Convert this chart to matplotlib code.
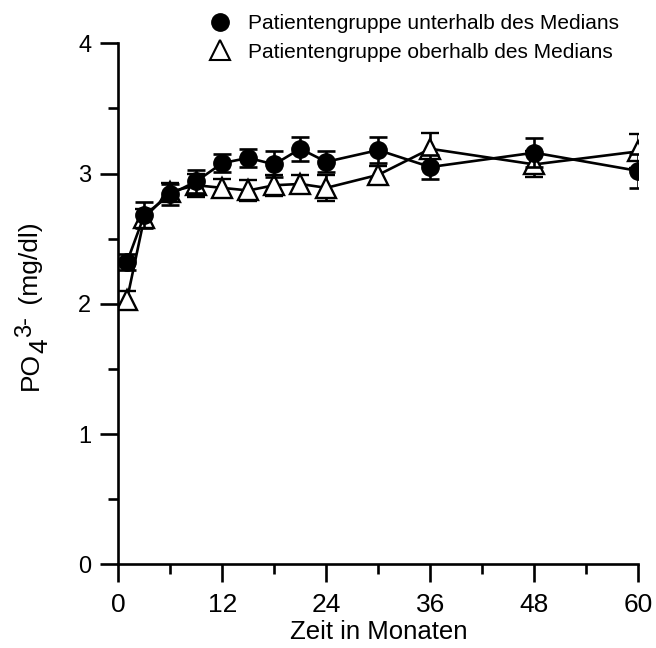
import matplotlib
matplotlib.use("Agg")
import matplotlib.pyplot as plt
from matplotlib.lines import Line2D
from matplotlib.ticker import MultipleLocator

# data
months = [1, 3, 6, 9, 12, 15, 18, 21, 24, 30, 36, 48, 60]
below_median = [2.32, 2.68, 2.84, 2.94, 3.08, 3.12, 3.07, 3.19, 3.09, 3.18, 3.05, 3.16, 3.02]
below_err = [0.06, 0.10, 0.08, 0.09, 0.07, 0.07, 0.10, 0.09, 0.08, 0.10, 0.09, 0.11, 0.13]
above_median = [2.03, 2.66, 2.86, 2.91, 2.89, 2.87, 2.91, 2.92, 2.89, 2.99, 3.19, 3.07, 3.17]
above_err = [0.07, 0.07, 0.07, 0.09, 0.07, 0.08, 0.08, 0.07, 0.10, 0.07, 0.12, 0.10, 0.13]
labels = ["Patientengruppe unterhalb des Medians", "Patientengruppe oberhalb des Medians"]
x_ticks = [0, 12, 24, 36, 48, 60]
y_ticks = [0, 1, 2, 3, 4]

plt.rcParams['font.family'] = ['Liberation Sans', 'DejaVu Sans']

fig = plt.figure(figsize=(6.56, 6.48), dpi=100)
ax = fig.add_axes([0.1803, 0.1292, 0.7927, 0.8040])

lw = 1.9
ax.errorbar(months, below_median, yerr=below_err, color='black', lw=lw,
            marker='o', ms=12.5, mfc='black', mec='black',
            capsize=6.5, capthick=lw, elinewidth=lw, zorder=3)
ax.errorbar(months, above_median, yerr=above_err, color='black', lw=lw,
            marker='^', ms=15, mfc='white', mec='black', mew=1.7,
            capsize=6.5, capthick=lw, elinewidth=lw, zorder=2)

ax.set_xlim(0, 60)
ax.set_ylim(0, 4)
ax.set_xticks(x_ticks)
ax.set_yticks(y_ticks)
ax.xaxis.set_minor_locator(MultipleLocator(6))
ax.yaxis.set_minor_locator(MultipleLocator(0.5))

for side in ['top', 'right']:
    ax.spines[side].set_visible(False)
for side in ['left', 'bottom']:
    ax.spines[side].set_linewidth(lw)

ax.tick_params(axis='both', which='major', length=13, width=lw)
ax.tick_params(axis='both', which='minor', length=7, width=lw)
ax.tick_params(axis='x', which='major', pad=8, labelsize=19)
ax.tick_params(axis='y', which='major', pad=6.5, labelsize=17)

ax.set_xlabel("Zeit in Monaten", fontsize=18.5, va='top')
ax.xaxis.set_label_coords(0.5, -0.107)

# y label: PO4 3- with a lowered 4 and raised 3-, built piece by piece
t1 = fig.text(0.0473, 1 - 390 / 648, "PO", rotation=90, fontsize=19,
              ha='center', va='bottom')
t2 = ax.annotate("4", xy=(0.5, 1), xycoords=t1, xytext=(7, -1),
                 textcoords='offset points', rotation=90, fontsize=19,
                 ha='center', va='bottom', annotation_clip=False)
t3 = ax.annotate("3-", xy=(0.5, 1), xycoords=t2, xytext=(-11.5, 1),
                 textcoords='offset points', rotation=90, fontsize=17,
                 ha='center', va='bottom', annotation_clip=False)
t4 = ax.annotate(" (mg/dl)", xy=(0.5, 1), xycoords=t3, xytext=(4.5, 3),
                 textcoords='offset points', rotation=90, fontsize=19,
                 ha='center', va='bottom', annotation_clip=False)

handles = [
    Line2D([], [], ls='none', marker='o', ms=12.5, mfc='black', mec='black'),
    Line2D([], [], ls='none', marker='^', ms=14, mfc='white', mec='black', mew=1.5),
]
ax.legend(handles, labels, loc='upper left', bbox_to_anchor=(0.3195, 0.978),
          bbox_transform=fig.transFigure, frameon=False, fontsize=15,
          handlelength=1.0, handletextpad=0.85, labelspacing=0.45,
          borderpad=0, borderaxespad=0)

fig.savefig("out.png", dpi=100)
